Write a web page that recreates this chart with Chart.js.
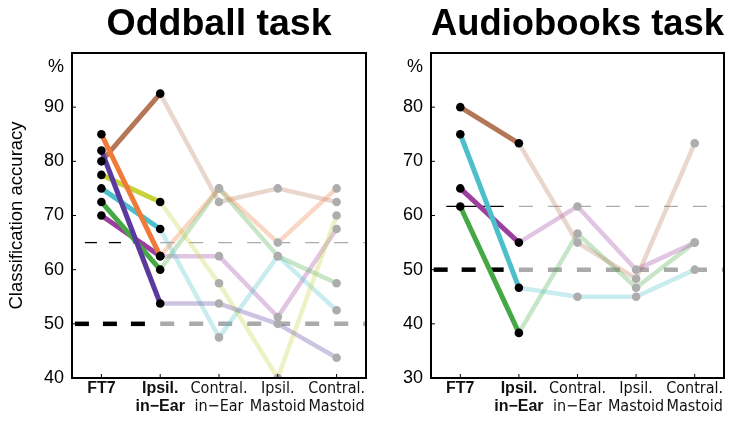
<!DOCTYPE html>
<html><head><meta charset="utf-8">
<script src="https://cdn.jsdelivr.net/npm/chart.js@4"></script>
<style>
html,body{margin:0;padding:0;background:#fff;width:732px;height:421px;overflow:hidden}
#l{position:absolute;left:0;top:0;width:372px;height:421px}
#r{position:absolute;left:380px;top:0;width:352px;height:421px}
</style></head><body>
<div id="l"><canvas id="c1"></canvas></div>
<div id="r"><canvas id="c2"></canvas></div>
<script>
// ---- data ----
const categories = [['FT7'], ['Ipsil.', 'in\u2212Ear'], ['Contral.', 'in\u2212Ear'], ['Ipsil.', 'Mastoid'], ['Contral.', 'Mastoid']];

const oddballOrange  = [85,   62.5,  75,    65,    75];
const oddballIndigo  = [82,   53.75, 53.75, 50,    43.75];
const oddballBrown   = [80,   92.5,  72.5,  75,    72.5];
const oddballYellow  = [77.5, 72.5,  57.5,  40,    70];
const oddballCyan    = [75,   67.5,  47.5,  62.5,  52.5];
const oddballGreen   = [72.5, 60,    75,    62.5,  57.5];
const oddballMagenta = [70,   62.5,  62.5,  51.25, 67.5];

const audioBrown   = [80,    73.33, 55,    48.33, 73.33];
const audioCyan    = [75,    46.67, 45,    45,    50];
const audioMagenta = [65,    55,    61.67, 50,    55];
const audioGreen   = [61.67, 38.33, 56.67, 46.67, 55];

const oddballTicks = [40, 50, 60, 70, 80, 90];
const audioTicks   = [30, 40, 50, 60, 70, 80];
const oddballChance = [50, 65];      // chance level, significance level
const audioChance   = [50, 61.67];

// ---- styles ----
const C = {
  brown: [181, 118, 88], orange: [240, 122, 58], indigo: [91, 58, 158], yellow: [200, 210, 58],
  cyan: [76, 191, 202], green: [69, 168, 69], magenta: [154, 63, 158]
};
const rgb = (c, a) => `rgba(${c[0]},${c[1]},${c[2]},${a})`;
const FONT = '"Liberation Sans", Arial, Helvetica, sans-serif';
const NARROW = '"Liberation Sans Narrow", "DejaVu Sans Condensed", "Liberation Sans", sans-serif';

function buildDatasets(series, colors) {
  const ds = [];
  series.forEach((vals, i) => {
    const col = colors[i];
    ds.push({ data: vals.map((v, j) => j === 0 ? null : v), borderColor: rgb(col, 0.3), borderWidth: 4.5,
      pointRadius: 0, order: 3, borderJoinStyle: 'round', spanGaps: false });
    ds.push({ data: vals.map((v, j) => j <= 1 ? v : null), borderColor: rgb(col, 1), borderWidth: 5,
      pointRadius: 0, order: 2, spanGaps: false });
  });
  series.forEach(vals => {
    ds.push({ data: vals, showLine: false, pointRadius: 4.3, pointBorderWidth: 0,
      pointBackgroundColor: vals.map((v, j) => j <= 1 ? '#000' : '#adadad'), order: 1 });
  });
  return ds;
}

function seg(ctx, x0, x1, y, color, w, dash) {
  ctx.beginPath();
  ctx.strokeStyle = color; ctx.lineWidth = w; ctx.setLineDash(dash);
  ctx.moveTo(x0, y); ctx.lineTo(x1, y); ctx.stroke();
}

const chancePlugin = {
  id: 'chance',
  beforeDatasetsDraw(chart, args, o) {
    const { ctx, chartArea: a, scales: { x, y } } = chart;
    ctx.save();
    const blackEnd = x.getPixelForValue(0.74);
    const grayStart = x.getPixelForValue(1);
    const yT = y.getPixelForValue(o.values[0]);
    seg(ctx, blackEnd, a.left, yT, '#000', 4.5, [14, 14]);
    seg(ctx, grayStart, a.right, yT, '#aaaaaa', 4.5, [14, 15]);
    const yt = y.getPixelForValue(o.values[1]);
    const thinStart = o.thinStartIdx === null ? a.left : x.getPixelForValue(o.thinStartIdx);
    seg(ctx, blackEnd, thinStart, yt, '#000', 1.3, o.thinDash);
    seg(ctx, grayStart, a.right, yt, '#aaaaaa', 1.3, [14, 15]);
    ctx.restore();
  }
};

const boxPlugin = {
  id: 'box',
  afterDatasetsDraw(chart) {
    const { ctx, chartArea: a, scales: { x, y } } = chart;
    ctx.save();
    ctx.setLineDash([]);
    ctx.strokeStyle = '#000';
    ctx.lineWidth = 1;
    x.ticks.forEach((t, i) => {
      const px = x.getPixelForTick(i);
      ctx.beginPath(); ctx.moveTo(px, a.bottom); ctx.lineTo(px, a.bottom - 4); ctx.stroke();
    });
    y.ticks.forEach(t => {
      if (t.label === '%') return;
      const py = y.getPixelForValue(t.value);
      ctx.beginPath(); ctx.moveTo(a.left, py); ctx.lineTo(a.left + 4, py); ctx.stroke();
    });
    ctx.lineWidth = 2;
    ctx.strokeRect(a.left, a.top, a.right - a.left, a.bottom - a.top);
    ctx.restore();
  }
};

function makeChart(id, title, series, colors, ticks, pct, min, max, chance, thinStartIdx, thinDash, yWidth, padRight, yTitle) {
  return new Chart(document.getElementById(id), {
    type: 'line',
    data: { labels: categories, datasets: buildDatasets(series, colors) },
    plugins: [chancePlugin, boxPlugin],
    options: {
      responsive: true, maintainAspectRatio: false, animation: false, events: [],
      layout: { padding: { left: 0, right: padRight, top: 0, bottom: 0 } },
      plugins: {
        legend: { display: false }, tooltip: { enabled: false },
        title: { display: true, text: title, fullSize: false, color: '#000',
          font: { family: FONT, size: 37.5, weight: 'bold', lineHeight: 1.2 }, padding: { top: 2, bottom: 6 } },
        chance: { values: chance, thinStartIdx: thinStartIdx, thinDash: thinDash }
      },
      scales: {
        x: {
          type: 'category', offset: true,
          grid: { display: false, drawTicks: false }, border: { display: false },
          ticks: { color: '#111', padding: 1, maxRotation: 0, autoSkip: false,
            font: (c) => ({ family: c.index < 2 ? FONT : NARROW, size: 16, weight: c.index < 2 ? 'bold' : 'normal', lineHeight: 1.17 }) },
          afterFit: s => { s.height = 43; }
        },
        y: {
          min: min, max: max,
          grid: { display: false, drawTicks: false }, border: { display: false },
          afterBuildTicks: s => { s.ticks = ticks.concat([pct]).map(v => ({ value: v })); },
          ticks: { color: '#000', padding: 8, font: { family: FONT, size: 18 },
            callback: v => v === pct ? '%' : String(v) },
          title: yTitle ? { display: true, text: yTitle, color: '#000', font: { family: FONT, size: 18.5 }, padding: { top: 6, bottom: 0 } } : { display: false },
          afterFit: s => { s.width = yWidth; }
        }
      }
    }
  });
}

makeChart('c1', 'Oddball task',
  [oddballOrange, oddballIndigo, oddballBrown, oddballYellow, oddballCyan, oddballGreen, oddballMagenta],
  [C.orange, C.indigo, C.brown, C.yellow, C.cyan, C.green, C.magenta],
  oddballTicks, 97.5, 40, 100, oddballChance, null, [12, 12], 72, 6, 'Classification accuracy');

makeChart('c2', 'Audiobooks task',
  [audioBrown, audioCyan, audioMagenta, audioGreen],
  [C.brown, C.cyan, C.magenta, C.green],
  audioTicks, 87.5, 30, 90, audioChance, -0.24, [], 51, 8, null);
</script>
</body></html>
